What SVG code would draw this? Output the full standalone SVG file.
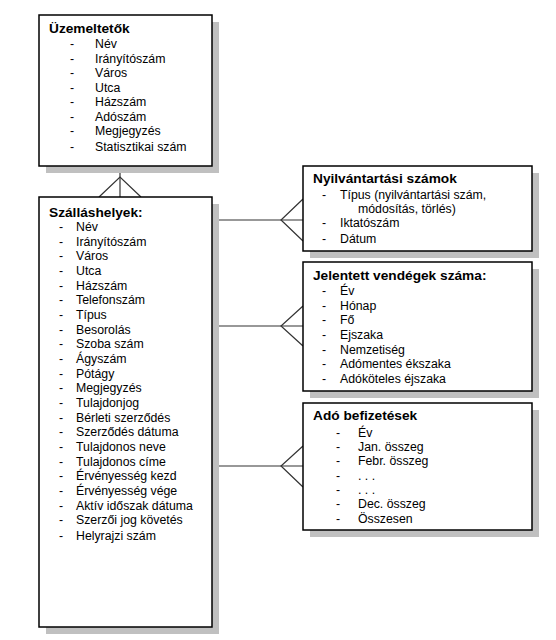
<svg xmlns="http://www.w3.org/2000/svg" width="556" height="640" viewBox="0 0 556 640">
<style>
.shadow{fill:#c0c0c0}
.box{fill:#fff;stroke:#000;stroke-width:1.5}
.title{font-family:"Liberation Sans",Arial,sans-serif;font-weight:bold;font-size:13.7px;fill:#000}
.item{font-family:"Liberation Sans",Arial,sans-serif;font-size:12.3px;fill:#000}
.conn{fill:none;stroke:#333;stroke-width:1.2}
</style>
<rect width="556" height="640" fill="#fff"/>
<g id="connectors">
<line class="conn" x1="120" y1="166" x2="120" y2="197"/>
<polyline class="conn" points="99,197 120,177 141,197"/>
<line class="conn" x1="212" y1="220" x2="303" y2="220"/>
<polyline class="conn" points="303,199 281,220 303,241"/>
<line class="conn" x1="212" y1="326" x2="303" y2="326"/>
<polyline class="conn" points="303,306 281,326 303,346"/>
<line class="conn" x1="212" y1="466" x2="303" y2="466"/>
<polyline class="conn" points="303,446 281,466 303,487"/>
</g>
<g id="uzemeltetok">
<rect class="shadow" x="46" y="22" width="173" height="151"/>
<rect class="box" x="39" y="15" width="173" height="151"/>
<text class="title" x="49" y="33">Üzemeltetők</text>
<g class="item">
<text x="70" y="48">-</text><text x="95" y="48">Név</text>
<text x="70" y="63">-</text><text x="95" y="63">Irányítószám</text>
<text x="70" y="77">-</text><text x="95" y="77">Város</text>
<text x="70" y="92">-</text><text x="95" y="92">Utca</text>
<text x="70" y="106">-</text><text x="95" y="106">Házszám</text>
<text x="70" y="121">-</text><text x="95" y="121">Adószám</text>
<text x="70" y="135">-</text><text x="95" y="135">Megjegyzés</text>
<text x="70" y="151">-</text><text x="95" y="151">Statisztikai szám</text>
</g>
</g>
<g id="szallashelyek">
<rect class="shadow" x="46" y="204" width="173" height="430"/>
<rect class="box" x="39" y="197" width="173" height="430"/>
<text class="title" x="49" y="217">Szálláshelyek:</text>
<g class="item">
<text x="59" y="231">-</text><text x="76" y="231">Név</text>
<text x="59" y="246">-</text><text x="76" y="246">Irányítószám</text>
<text x="59" y="260">-</text><text x="76" y="260">Város</text>
<text x="59" y="275">-</text><text x="76" y="275">Utca</text>
<text x="59" y="290">-</text><text x="76" y="290">Házszám</text>
<text x="59" y="304">-</text><text x="76" y="304">Telefonszám</text>
<text x="59" y="319">-</text><text x="76" y="319">Típus</text>
<text x="59" y="334">-</text><text x="76" y="334">Besorolás</text>
<text x="59" y="348">-</text><text x="76" y="348">Szoba szám</text>
<text x="59" y="363">-</text><text x="76" y="363">Ágyszám</text>
<text x="59" y="378">-</text><text x="76" y="378">Pótágy</text>
<text x="59" y="392">-</text><text x="76" y="392">Megjegyzés</text>
<text x="59" y="407">-</text><text x="76" y="407">Tulajdonjog</text>
<text x="59" y="422">-</text><text x="76" y="422">Bérleti szerződés</text>
<text x="59" y="436">-</text><text x="76" y="436">Szerződés dátuma</text>
<text x="59" y="451">-</text><text x="76" y="451">Tulajdonos neve</text>
<text x="59" y="466">-</text><text x="76" y="466">Tulajdonos címe</text>
<text x="59" y="480">-</text><text x="76" y="480">Érvényesség kezd</text>
<text x="59" y="495">-</text><text x="76" y="495">Érvényesség vége</text>
<text x="59" y="510">-</text><text x="76" y="510">Aktív időszak dátuma</text>
<text x="59" y="524">-</text><text x="76" y="524">Szerzői jog követés</text>
<text x="59" y="540">-</text><text x="76" y="540">Helyrajzi szám</text>
</g>
</g>
<g id="nyilvantartasi">
<rect class="shadow" x="310" y="173" width="229" height="85"/>
<rect class="box" x="303" y="166" width="229" height="85"/>
<text class="title" x="313" y="183">Nyilvántartási számok</text>
<g class="item">
<text x="322" y="199">-</text><text x="340" y="199">Típus (nyilvántartási szám,</text>
<text x="358" y="213">módosítás, törlés)</text>
<text x="322" y="227">-</text><text x="340" y="227">Iktatószám</text>
<text x="322" y="243">-</text><text x="340" y="243">Dátum</text>
</g>
</g>
<g id="vendegek">
<rect class="shadow" x="310" y="269" width="229" height="129"/>
<rect class="box" x="303" y="262" width="229" height="129"/>
<text class="title" x="313" y="280">Jelentett vendégek száma:</text>
<g class="item">
<text x="322" y="295">-</text><text x="340" y="295">Év</text>
<text x="322" y="310">-</text><text x="340" y="310">Hónap</text>
<text x="322" y="324">-</text><text x="340" y="324">Fő</text>
<text x="322" y="339">-</text><text x="340" y="339">Ejszaka</text>
<text x="322" y="354">-</text><text x="340" y="354">Nemzetiség</text>
<text x="322" y="368">-</text><text x="340" y="368">Adómentes ékszaka</text>
<text x="322" y="383">-</text><text x="340" y="383">Adóköteles éjszaka</text>
</g>
</g>
<g id="adobefizetesek">
<rect class="shadow" x="310" y="410" width="229" height="127"/>
<rect class="box" x="303" y="403" width="229" height="127"/>
<text class="title" x="313" y="420">Adó befizetések</text>
<g class="item">
<text x="336" y="437">-</text><text x="358" y="437">Év</text>
<text x="336" y="451">-</text><text x="358" y="451">Jan. összeg</text>
<text x="336" y="465">-</text><text x="358" y="465">Febr. összeg</text>
<text x="336" y="480">-</text><text x="358" y="480">. . .</text>
<text x="336" y="494">-</text><text x="358" y="494">. . .</text>
<text x="336" y="508">-</text><text x="358" y="508">Dec. összeg</text>
<text x="336" y="523">-</text><text x="358" y="523">Összesen</text>
</g>
</g>
</svg>
